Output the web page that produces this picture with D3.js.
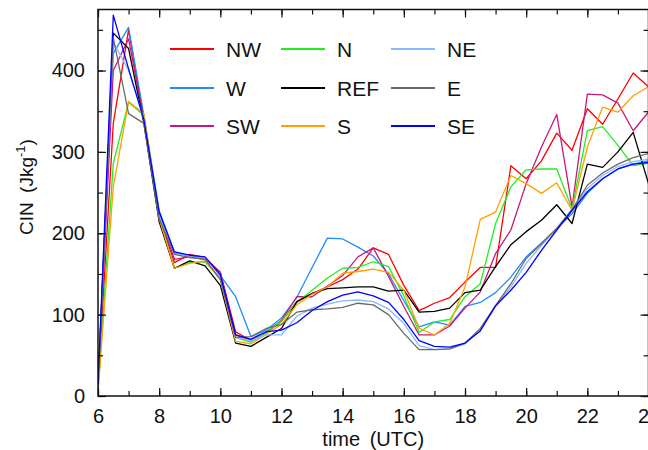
<!DOCTYPE html>
<html><head><meta charset="utf-8">
<script src="https://cdn.jsdelivr.net/npm/d3@7"></script>
<style>
body{margin:0;background:#fff}
text{font-family:"Liberation Sans",Arial,sans-serif;fill:#111}
</style>
</head><body><svg id="c" width="648" height="450"></svg>
<script>
const times = [6,6.5,7,7.5,8,8.5,9,9.5,10,10.5,11,11.5,12,12.5,13,13.5,14,14.5,15,15.5,16,16.5,17,17.5,18,18.5,19,19.5,20,20.5,21,21.5,22,22.5,23,23.5,24];
const NW  = [10,335,450,340,220,164,174,170,152,79,68,78,92,116,126,134,143,156,182,174,136,105,114,121,140,158,158,283,267,289,323,302,353,334,365,397,380];
const W   = [15,421,453,345,228,176,172,170,148,122,73,81,96,121,158,194,193,183,172,150,117,85,91,87,110,115,127,146,171,188,206,224,249,267,279,285,289];
const SW  = [15,400,439,340,220,168,171,168,152,75,68,78,93,122,122,135,148,171,182,147,110,75,75,86,108,128,175,204,261,306,346,232,371,370,360,326,349];
const N   = [5,286,361,345,218,157,164,165,145,72,66,79,92,115,130,145,157,158,165,159,123,78,91,94,122,138,212,257,278,279,279,230,326,331,308,283,286];
const REF = [10,446,427,335,214,157,166,160,136,65,61,72,83,116,126,132,133,134,134,129,130,103,104,108,127,130,159,186,202,216,235,212,285,281,300,324,261];
const S   = [5,257,362,347,218,157,163,166,143,67,64,76,88,112,125,134,151,153,156,152,130,83,75,89,134,217,226,271,261,249,262,228,306,355,349,369,380];
const NE  = [15,435,400,340,222,177,172,170,148,72,68,75,75,98,108,113,117,118,116,107,89,62,57,58,64,81,110,134,163,185,206,230,255,271,282,288,291];
const E   = [10,440,347,335,218,174,170,168,143,72,73,83,88,103,106,107,109,114,112,100,77,57,57,58,65,83,111,138,169,187,206,229,259,274,285,293,298];
const SE  = [15,468,402,340,226,177,173,171,149,75,70,79,81,90,105,116,124,128,123,115,94,68,61,60,65,80,111,130,152,179,204,228,251,267,279,285,287];

const seriesNames = ["NW","W","SW","N","REF","S","NE","E","SE"];
const seriesData = [NW,W,SW,N,REF,S,NE,E,SE];
const seriesColors = ["#ff0000","#1e8cff","#c8177f","#22ee22","#000000","#ffa000","#88b8ff","#6a6a6a","#0000ff"];

const xTicks = [6,8,10,12,14,16,18,20,22,24];
const yTicks = [0,100,200,300,400];

const L=98, R=648.5, T=9.5, B=396;
const svg = d3.select("#c");
const x = d3.scaleLinear().domain([6,24]).range([L,R]);
const y = d3.scaleLinear().domain([0,475]).range([B,T]);

svg.append("defs").append("clipPath").attr("id","clip").append("rect")
  .attr("x",L).attr("y",T).attr("width",R-L).attr("height",B-T);

const line = d3.line().x((d,i)=>x(times[i])).y(d=>y(d));
const g = svg.append("g").attr("clip-path","url(#clip)");
seriesData.forEach((s,k)=>{
  g.append("path").datum(s).attr("d",line).attr("fill","none")
   .attr("stroke",seriesColors[k]).attr("stroke-width",1.3).attr("stroke-linejoin","round");
});

// axes
function styleAxis(sel){ sel.select(".domain").remove(); sel.selectAll("line").attr("stroke","#111").attr("stroke-width",1.2); }
const xMinor = d3.range(6,24.5,1);
svg.append("g").attr("transform",`translate(0,${B})`)
  .call(d3.axisBottom(x).tickValues(xMinor).tickFormat("").tickSize(-5)).call(styleAxis);
svg.append("g").attr("transform",`translate(0,${B})`)
  .call(d3.axisBottom(x).tickValues(xTicks).tickFormat(d3.format("d")).tickSize(-8).tickPadding(13))
  .call(styleAxis).selectAll("text").attr("font-size",20).attr("fill","#111");
svg.append("g").attr("transform",`translate(0,${T})`)
  .call(d3.axisTop(x).tickValues(xMinor).tickFormat("").tickSize(-5)).call(styleAxis);
svg.append("g").attr("transform",`translate(0,${T})`)
  .call(d3.axisTop(x).tickValues(xTicks).tickFormat("").tickSize(-8)).call(styleAxis);

const yMinor = d3.range(0,475,50);
svg.append("g").attr("transform",`translate(${L},0)`)
  .call(d3.axisLeft(y).tickValues(yMinor).tickFormat("").tickSize(-5)).call(styleAxis);
svg.append("g").attr("transform",`translate(${L},0)`)
  .call(d3.axisLeft(y).tickValues(yTicks).tickFormat(d3.format("d")).tickSize(-8).tickPadding(13))
  .call(styleAxis).selectAll("text").attr("font-size",20).attr("fill","#111");
svg.append("g").attr("transform",`translate(${R},0)`)
  .call(d3.axisRight(y).tickValues(yMinor).tickFormat("").tickSize(-5)).call(styleAxis);
svg.append("g").attr("transform",`translate(${R},0)`)
  .call(d3.axisRight(y).tickValues(yTicks).tickFormat("").tickSize(-8)).call(styleAxis);

svg.append("rect").attr("x",L).attr("y",T).attr("width",R-L).attr("height",B-T)
  .attr("fill","none").attr("stroke","#111").attr("stroke-width",1.5);

// axis labels
svg.append("text").attr("x",(L+R)/2).attr("y",446).attr("text-anchor","middle")
  .attr("font-size",20).attr("word-spacing",4).text("time (UTC)");
const yl = svg.append("text").attr("transform","translate(33,187) rotate(-90)")
  .attr("text-anchor","middle").attr("font-size",19).attr("word-spacing",4);
yl.append("tspan").text("CIN (Jkg");
yl.append("tspan").attr("font-size",13).attr("dy",-8).text("-1");
yl.append("tspan").attr("dy",8).text(")");

// legend
const legCols = [170,281,391];
const legRows = [49,88,126];
seriesNames.forEach((n,k)=>{
  const col = Math.floor(k/3), row = k%3;
  const lx = legCols[col], ly = legRows[row];
  svg.append("line").attr("x1",lx).attr("x2",lx+44).attr("y1",ly).attr("y2",ly)
    .attr("stroke",seriesColors[k]).attr("stroke-width",2.2);
  svg.append("text").attr("x",lx+56).attr("y",ly+7.5).attr("font-size",21).text(n);
});
</script>
</body></html>
